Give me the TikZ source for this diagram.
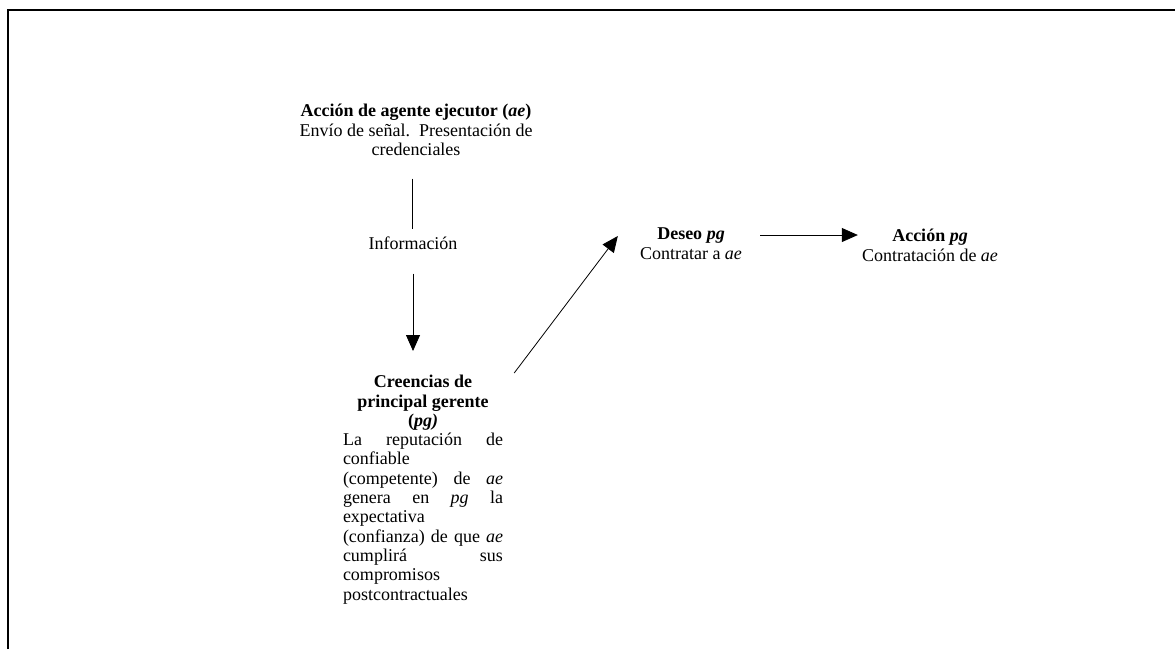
\documentclass[tikz,border=0pt]{standalone}
\usepackage{fontspec}
\setmainfont{Liberation Serif}
\usetikzlibrary{arrows.meta,calc}
\newcommand\labelfont{\fontsize{18}{19.3}\selectfont}
% justified and ragged lines of the belief paragraph
\newcommand\jline[1]{\makebox[160pt][s]{#1}}
\newcommand\lline[1]{\makebox[160pt][l]{#1}}

\begin{document}
\begin{tikzpicture}[x=1pt,y=-1pt,
  label text/.style={inner sep=0pt, anchor=north, align=center, font=\labelfont},
  link/.style={line width=0.8pt},
  flow/.style={line width=0.8pt, -{Triangle[length=16pt,width=14pt]}},
  frame/.style={line width=2pt}]
\useasboundingbox (0,0) rectangle (1175,649);

% open frame: top and left edges
\draw[frame] (7.5,649) -- (7.5,9.5) -- (1175,9.5);

\node[label text] (ae) at (416,103)
  {\strut\textbf{Acción de agente ejecutor (\textit{ae})}\\
   Envío de señal.\ \ Presentación de\\
   credenciales};
\node[label text] (info) at (413,236) {\strut Información};
\node[label text] (cre) at (423,374)
  {\strut\textbf{Creencias de}\\
   \textbf{principal gerente}\\
   \textbf{(\textit{pg)}}\\
   \jline{La reputación de}\\
   \lline{confiable}\\
   \jline{(competente) de \textit{ae}}\\
   \jline{genera en \textit{pg} la}\\
   \lline{expectativa}\\
   \jline{(confianza) de que \textit{ae}}\\
   \jline{cumplirá sus}\\
   \lline{compromisos}\\
   \lline{postcontractuales}};
\node[label text] (deseo) at (691,226)
  {\strut\textbf{Deseo \textit{pg}}\\Contratar a \textit{ae}};
\node[label text] (acc) at (930,228)
  {\strut\textbf{Acción \textit{pg}}\\Contratación de \textit{ae}};

% connectors
\draw[link] ($(ae.south)+(-4,23)$) -- ($(info.north)+(-1,-7)$);
\draw[flow] ($(info.south)+(0,18)$) -- ($(cre.north)+(-10,-23)$);
\draw[flow] ($(cre.north east)+(11,-1)$) -- ($(deseo.north west)+(-22,10)$);
\coordinate (h) at ($(deseo.north east)+(18,9)$);
\draw[flow, shorten >=4pt] (h) -- (h -| acc.west);
\end{tikzpicture}
\end{document}
